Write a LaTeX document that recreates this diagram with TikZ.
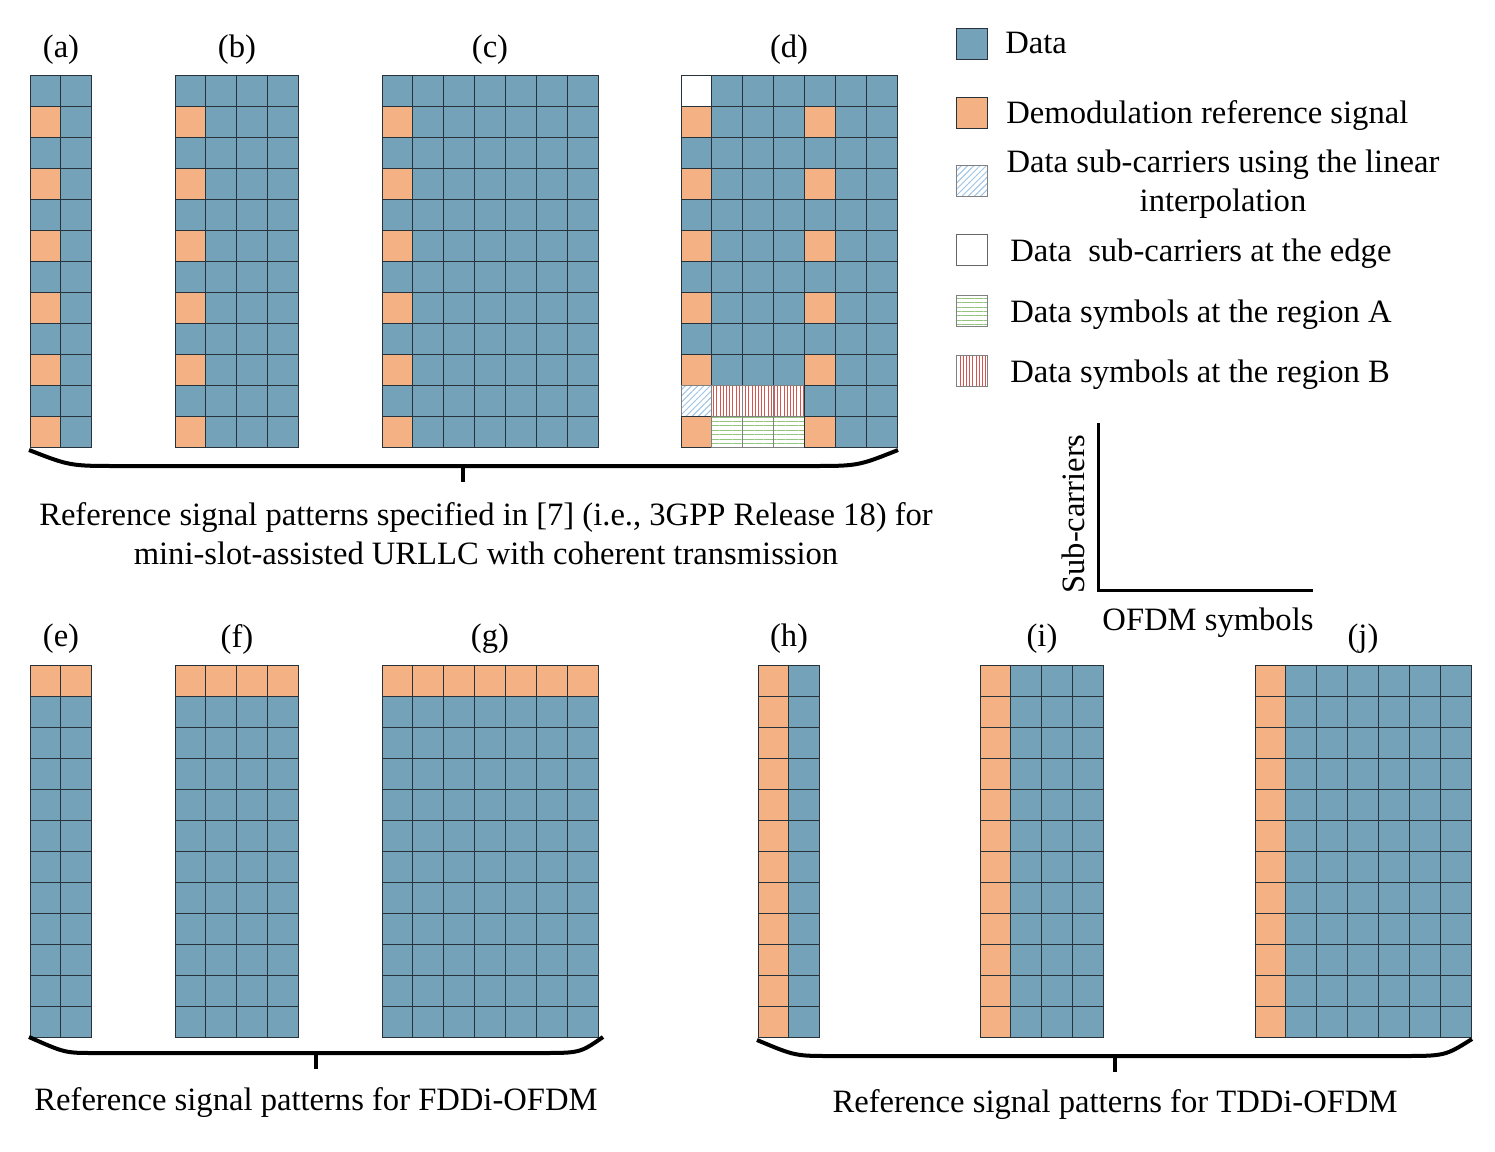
\documentclass[tikz,border=0pt]{standalone}
\usepackage{fontspec}
\setmainfont{Liberation Serif}
\usetikzlibrary{patterns.meta}
\definecolor{datablue}{HTML}{74A2B9}
\definecolor{dmrsorange}{HTML}{F4B183}
\definecolor{edgegray}{HTML}{27323A}
\definecolor{hatchblue}{HTML}{9DC3E6}
\definecolor{hatchred}{HTML}{D9534F}
\definecolor{hatchgreen}{HTML}{93C47D}
\tikzset{
  every node/.style={font=\fontsize{16.3}{19.5}\selectfont},
  cell/.style={rectangle, draw=edgegray, line width=0.5pt, minimum width=15.45pt, minimum height=15.52pt, inner sep=0pt, outer sep=0pt},
  cellkind0/.style={fill=datablue},
  cellkind1/.style={fill=dmrsorange},
  cellkind2/.style={fill=white},
  cellkind3/.style={draw=gray, pattern={Lines[angle=45,distance=2.2pt,line width=0.5pt]}, pattern color=hatchblue},
  cellkind4/.style={draw=gray, pattern={Lines[angle=90,distance=1.6pt,line width=0.5pt]}, pattern color=hatchred},
  cellkind5/.style={draw=gray, pattern={Lines[angle=0,distance=2.2pt,line width=0.5pt]}, pattern color=hatchgreen},
  bracepath/.style={line width=2pt, draw=black},
  axisline/.style={line width=1.5pt, draw=black},
  lbl/.style={inner sep=0pt},
}
\newcommand\rsgrid[5]{%
  \foreach \rw in {1,...,12}{%
    \foreach \cl in {1,...,#4}{%
      \pgfmathtruncatemacro\kd{#5}%
      \node[cell,cellkind\kd] (#1-\rw-\cl) at ({#2+(\cl-0.5)*30.9},{#3+(\rw-0.5)*31.05}) {};
    }}}
\begin{document}
\begin{tikzpicture}[x=0.5pt,y=-0.5pt]
\useasboundingbox (0,0) rectangle (1495,1152);
% ---- top grids
\rsgrid{a}{30}{75}{2}{ifthenelse((\cl==1)&&(mod(\rw,2)==0),1,0)}
\rsgrid{b}{175}{75}{4}{ifthenelse((\cl==1)&&(mod(\rw,2)==0),1,0)}
\rsgrid{c}{382}{75}{7}{ifthenelse((\cl==1)&&(mod(\rw,2)==0),1,0)}
\rsgrid{d}{681}{75}{7}{ifthenelse((\rw==1)&&(\cl==1),2,ifthenelse((\rw==11)&&(\cl==1),3,ifthenelse((\rw==11)&&(\cl>1)&&(\cl<5),4,ifthenelse((\rw==12)&&(\cl>1)&&(\cl<5),5,ifthenelse(((\cl==1)||(\cl==5))&&(mod(\rw,2)==0),1,0)))))}
% ---- bottom grids
\rsgrid{e}{30}{665}{2}{ifthenelse(\rw==1,1,0)}
\rsgrid{f}{175}{665}{4}{ifthenelse(\rw==1,1,0)}
\rsgrid{g}{382}{665}{7}{ifthenelse(\rw==1,1,0)}
\rsgrid{h}{758}{665}{2}{ifthenelse(\cl==1,1,0)}
\rsgrid{i}{980}{665}{4}{ifthenelse(\cl==1,1,0)}
\rsgrid{j}{1255}{665}{7}{ifthenelse(\cl==1,1,0)}
% ---- labels
\node[lbl] (la) at (61,50) {(a)};
\node[lbl] (lb) at (237,50) {(b)};
\node[lbl] (lc) at (490,50) {(c)};
\node[lbl] (ld) at (789,50) {(d)};
\node[lbl] (le) at (61,639) {(e)};
\node[lbl] (lf) at (237,639) {(f)};
\node[lbl] (lg) at (490,639) {(g)};
\node[lbl] (lh) at (789,639) {(h)};
\node[lbl] (li) at (1042,639) {(i)};
\node[lbl] (lj) at (1363,639) {(j)};
% ---- braces
\coordinate (tbl) at (29,450);
\coordinate (tbr) at (898,450);
\coordinate (tbm) at (463,466);
\coordinate (tbt) at (463,482);
\draw[bracepath] (tbl) .. controls (70,466) .. (120,466) -- (810,466) .. controls (858,466) .. (tbr);
\draw[bracepath] (tbm) -- (tbt);
\coordinate (blbl) at (29,1037);
\coordinate (blbr) at (603,1037);
\coordinate (blbm) at (316,1053);
\coordinate (blbt) at (316,1069);
\draw[bracepath] (blbl) .. controls (65,1053) .. (95,1053) -- (540,1053) .. controls (580,1053) .. (blbr);
\draw[bracepath] (blbm) -- (blbt);
\coordinate (brbl) at (757,1040);
\coordinate (brbr) at (1472,1039);
\coordinate (brbm) at (1115,1056);
\coordinate (brbt) at (1115,1072);
\draw[bracepath] (brbl) .. controls (795,1056) .. (832,1056) -- (1400,1056) .. controls (1445,1056) .. (brbr);
\draw[bracepath] (brbm) -- (brbt);
% ---- captions
\node[align=center] (captop) at (486,534) {Reference signal patterns specified in [7] (i.e., 3GPP Release 18) for\\mini-slot-assisted URLLC with coherent transmission};
\node (capfdd) at (316,1103) {Reference signal patterns for FDDi-OFDM};
\node (captdd) at (1115,1105) {Reference signal patterns for TDDi-OFDM};
% ---- legend
\node[cell,cellkind0,minimum width=15.5pt,minimum height=15.5pt] (lg0) at (971.5,43.5) {};
\node[cell,cellkind1,minimum width=15.5pt,minimum height=15.5pt] (lg1) at (971.5,112.5) {};
\node[cell,cellkind3,minimum width=15.5pt,minimum height=15.5pt] (lg3) at (971.5,181) {};
\node[cell,cellkind2,draw=gray!80!black,minimum width=15.5pt,minimum height=15.5pt] (lg2) at (971.5,249.5) {};
\node[cell,cellkind5,minimum width=15.5pt,minimum height=15.5pt] (lg5) at (971.5,310.5) {};
\node[cell,cellkind4,minimum width=15.5pt,minimum height=15.5pt] (lg4) at (971.5,370.5) {};
\node[anchor=west,inner sep=0pt] (tx0) at (1005,43) {Data};
\node[anchor=west,inner sep=0pt] (tx1) at (1006,116) {Demodulation reference signal};
\node[align=center] (tx3) at (1223,184) {Data sub-carriers using the linear\\interpolation};
\node[anchor=west,inner sep=0pt] (tx2) at (1010,254) {Data~ sub-carriers at the edge};
\node[anchor=west,inner sep=0pt] (tx5) at (1010,315) {Data symbols at the region A};
\node[anchor=west,inner sep=0pt] (tx4) at (1010,375) {Data symbols at the region B};
% ---- axes
\coordinate (axO) at (1098,590);
\coordinate (axY) at (1098,423);
\coordinate (axX) at (1313,590);
\draw[axisline] (axY) -- (axO) -- (axX);
\node[rotate=90] (axYlbl) at (1073,514) {Sub-carriers};
\node (axXlbl) at (1208,623) {OFDM symbols};
\end{tikzpicture}
\end{document}
